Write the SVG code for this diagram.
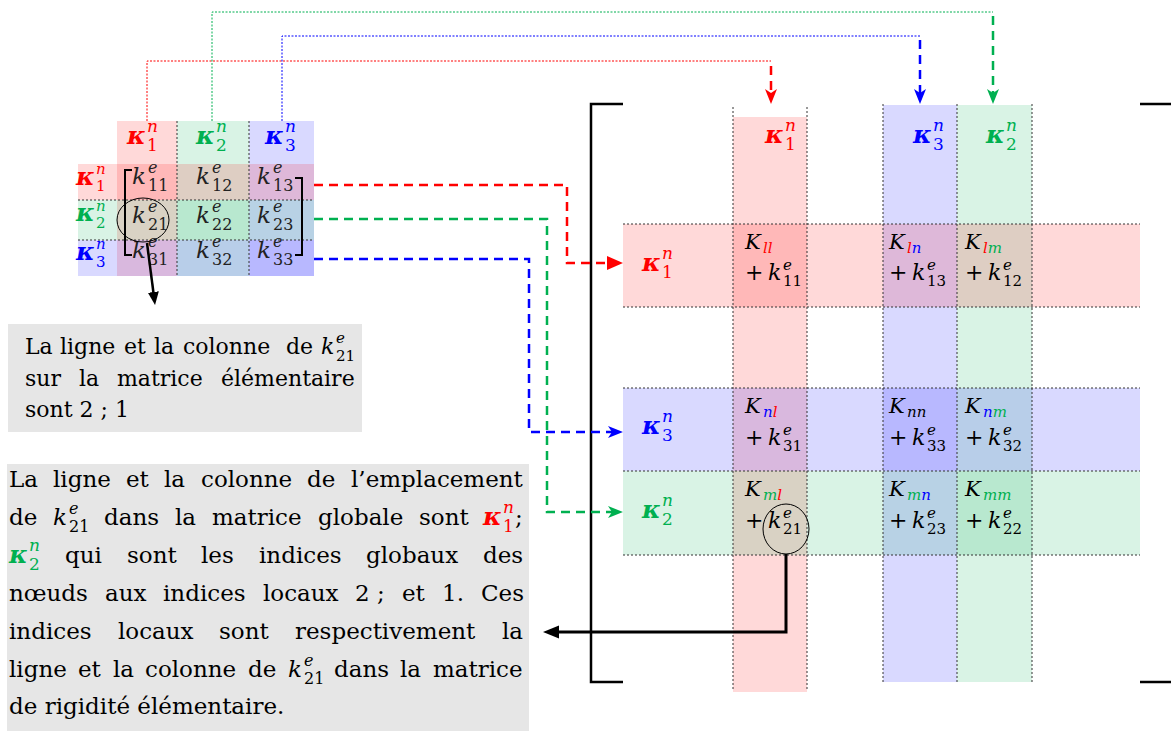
<svg xmlns="http://www.w3.org/2000/svg" width="1171" height="731" viewBox="0 0 1171 731">
<defs>
<style>
text{font-family:"DejaVu Serif","Liberation Serif",serif;fill:#000}
.t{font-size:23px}
.t1{font-size:22px}
.kap{font-weight:bold;font-style:italic;font-size:25px}
.sc{font-size:17px}
.ss{font-size:16px}
.it{font-style:italic}
.k{font-style:italic;font-size:23px}
.kb{font-style:italic;font-size:22px}
.K{font-style:italic;font-size:21px}
.s{font-size:15px}
.pl{font-size:22px}
.e{fill:#222}
.fr{fill:#ff0000;fill-opacity:.15}
.fg{fill:#00b050;fill-opacity:.15}
.fb{fill:#0000ff;fill-opacity:.15}
.dot{stroke:#333;stroke-width:1;stroke-dasharray:2 2;fill:none}
.red{fill:#ff0000}.grn{fill:#00b050}.blu{fill:#0000ff}
.thin{fill:none;stroke-width:1;stroke-dasharray:2 1.5}
.thick{fill:none;stroke-width:2.5;stroke-dasharray:9 6}
.blk{fill:none;stroke:#000}
.box{fill:#e6e6e6}
</style>
<marker id="stR" markerUnits="userSpaceOnUse" markerWidth="16" markerHeight="12" refX="4" refY="6" orient="auto"><path d="M0,0 L15,6 L0,12 L4,6 Z" fill="#ff0000"/></marker>
<marker id="stB" markerUnits="userSpaceOnUse" markerWidth="16" markerHeight="12" refX="4" refY="6" orient="auto"><path d="M0,0 L15,6 L0,12 L4,6 Z" fill="#0000ff"/></marker>
<marker id="stG" markerUnits="userSpaceOnUse" markerWidth="16" markerHeight="12" refX="4" refY="6" orient="auto"><path d="M0,0 L15,6 L0,12 L4,6 Z" fill="#00b050"/></marker>
<marker id="trR" markerUnits="userSpaceOnUse" markerWidth="17" markerHeight="14" refX="1" refY="7" orient="auto"><path d="M0,0 L16,7 L0,14 Z" fill="#ff0000"/></marker>
<marker id="trK" markerUnits="userSpaceOnUse" markerWidth="17" markerHeight="14" refX="1" refY="6.5" orient="auto"><path d="M0,0 L16,6.5 L0,13 Z" fill="#000"/></marker>
<marker id="trK2" markerUnits="userSpaceOnUse" markerWidth="14" markerHeight="12" refX="1" refY="5.5" orient="auto"><path d="M0,0 L13,5.5 L0,11 Z" fill="#000"/></marker>
</defs>
<rect width="1171" height="731" fill="#fff"/>

<!-- Small element matrix -->
<g id="element-matrix">
<rect class="fr" x="117" y="121" width="60" height="155"/>
<rect class="fg" x="177" y="121" width="72" height="155"/>
<rect class="fb" x="249" y="121" width="65" height="155"/>
<rect class="fr" x="78" y="164" width="236" height="36"/>
<rect class="fg" x="78" y="200" width="236" height="40"/>
<rect class="fb" x="78" y="240" width="236" height="36"/>
<path class="dot" d="M177,121 V276 M249,121 V276 M78,200 H314 M78,240 H314"/>
<!-- headers -->
<text x="127" y="144" class="red"><tspan class="kap">κ</tspan><tspan class="sc it" x="147" y="132">n</tspan><tspan class="sc" x="147" y="151">1</tspan></text>
<text x="196" y="144" class="grn"><tspan class="kap">κ</tspan><tspan class="sc it" x="216" y="132">n</tspan><tspan class="sc" x="216" y="151">2</tspan></text>
<text x="265" y="144" class="blu"><tspan class="kap">κ</tspan><tspan class="sc it" x="285" y="132">n</tspan><tspan class="sc" x="285" y="151">3</tspan></text>
<text x="76" y="185" class="red"><tspan class="kap">κ</tspan><tspan class="s it" x="96" y="174">n</tspan><tspan class="s" x="96" y="191">1</tspan></text>
<text x="76" y="221" class="grn"><tspan class="kap">κ</tspan><tspan class="s it" x="96" y="211">n</tspan><tspan class="s" x="96" y="228">2</tspan></text>
<text x="76" y="260" class="blu"><tspan class="kap">κ</tspan><tspan class="s it" x="96" y="249">n</tspan><tspan class="s" x="96" y="267">3</tspan></text>
<!-- entries -->
<text class="e" x="132" y="184"><tspan class="k">k</tspan><tspan class="ss it" x="148" y="173">e</tspan><tspan class="ss" x="148" y="191">11</tspan></text>
<text class="e" x="196" y="184"><tspan class="k">k</tspan><tspan class="ss it" x="212" y="173">e</tspan><tspan class="ss" x="212" y="191">12</tspan></text>
<text class="e" x="257" y="184"><tspan class="k">k</tspan><tspan class="ss it" x="273" y="173">e</tspan><tspan class="ss" x="273" y="191">13</tspan></text>
<text class="e" x="132" y="223"><tspan class="k">k</tspan><tspan class="ss it" x="148" y="212">e</tspan><tspan class="ss" x="148" y="230">21</tspan></text>
<text class="e" x="196" y="223"><tspan class="k">k</tspan><tspan class="ss it" x="212" y="212">e</tspan><tspan class="ss" x="212" y="230">22</tspan></text>
<text class="e" x="257" y="223"><tspan class="k">k</tspan><tspan class="ss it" x="273" y="212">e</tspan><tspan class="ss" x="273" y="230">23</tspan></text>
<text class="e" x="132" y="258"><tspan class="k">k</tspan><tspan class="ss it" x="148" y="247">e</tspan><tspan class="ss" x="148" y="265">31</tspan></text>
<text class="e" x="196" y="258"><tspan class="k">k</tspan><tspan class="ss it" x="212" y="247">e</tspan><tspan class="ss" x="212" y="265">32</tspan></text>
<text class="e" x="257" y="258"><tspan class="k">k</tspan><tspan class="ss it" x="273" y="247">e</tspan><tspan class="ss" x="273" y="265">33</tspan></text>
<path class="blk" stroke-width="2" d="M132,170 H125 V255 H132 M295,178 H302 V255 H295"/>
<ellipse class="blk" stroke-width="1" cx="143" cy="220" rx="26" ry="22"/>
</g>

<!-- Global matrix -->
<g id="global-matrix">
<rect class="fr" x="733" y="117" width="74" height="575"/>
<rect class="fb" x="883" y="105" width="74" height="577"/>
<rect class="fg" x="957" y="105" width="75" height="577"/>
<rect class="fr" x="623" y="224" width="517" height="83"/>
<rect class="fb" x="623" y="388" width="517" height="83"/>
<rect class="fg" x="623" y="471" width="517" height="84"/>
<path class="dot" d="M733,107 V690 M807,107 V690 M883,104 V684 M957,104 V684 M1032,104 V684 M623,224 H1140 M623,307 H1140 M623,388 H1140 M623,471 H1140 M623,555 H1140"/>
<path class="blk" stroke-width="2.5" d="M623,104 H591 V682 H623 M1140,104 H1171 M1140,682 H1171"/>
<!-- column labels -->
<text x="765" y="143" class="red"><tspan class="kap">κ</tspan><tspan class="sc it" x="785" y="131">n</tspan><tspan class="sc" x="785" y="150">1</tspan></text>
<text x="913" y="143" class="blu"><tspan class="kap">κ</tspan><tspan class="sc it" x="933" y="131">n</tspan><tspan class="sc" x="933" y="150">3</tspan></text>
<text x="986" y="143" class="grn"><tspan class="kap">κ</tspan><tspan class="sc it" x="1006" y="131">n</tspan><tspan class="sc" x="1006" y="150">2</tspan></text>
<!-- row labels -->
<text x="642" y="271" class="red"><tspan class="kap">κ</tspan><tspan class="sc it" x="662" y="259">n</tspan><tspan class="sc" x="662" y="278">1</tspan></text>
<text x="642" y="434" class="blu"><tspan class="kap">κ</tspan><tspan class="sc it" x="662" y="422">n</tspan><tspan class="sc" x="662" y="441">3</tspan></text>
<text x="642" y="518" class="grn"><tspan class="kap">κ</tspan><tspan class="sc it" x="662" y="506">n</tspan><tspan class="sc" x="662" y="525">2</tspan></text>
<!-- row l -->
<text x="745" y="249"><tspan class="K">K</tspan><tspan class="s it red" x="763" y="253">ll</tspan></text>
<text x="745" y="280" class="pl">+</text>
<text x="768" y="280"><tspan class="kb">k</tspan><tspan class="s it" x="783" y="270">e</tspan><tspan class="s" x="783" y="286">11</tspan></text>
<text x="889" y="249"><tspan class="K">K</tspan><tspan class="s it red" x="907" y="253">l</tspan><tspan class="s it blu">n</tspan></text>
<text x="889" y="280" class="pl">+</text>
<text x="912" y="280"><tspan class="kb">k</tspan><tspan class="s it" x="927" y="270">e</tspan><tspan class="s" x="927" y="286">13</tspan></text>
<text x="965" y="249"><tspan class="K">K</tspan><tspan class="s it red" x="983" y="253">l</tspan><tspan class="s it grn">m</tspan></text>
<text x="965" y="280" class="pl">+</text>
<text x="988" y="280"><tspan class="kb">k</tspan><tspan class="s it" x="1003" y="270">e</tspan><tspan class="s" x="1003" y="286">12</tspan></text>
<!-- row n -->
<text x="745" y="413"><tspan class="K">K</tspan><tspan class="s it blu" x="763" y="417">n</tspan><tspan class="s it red">l</tspan></text>
<text x="745" y="445" class="pl">+</text>
<text x="768" y="445"><tspan class="kb">k</tspan><tspan class="s it" x="783" y="435">e</tspan><tspan class="s" x="783" y="451">31</tspan></text>
<text x="889" y="413"><tspan class="K">K</tspan><tspan class="s it" x="907" y="417">nn</tspan></text>
<text x="889" y="445" class="pl">+</text>
<text x="912" y="445"><tspan class="kb">k</tspan><tspan class="s it" x="927" y="435">e</tspan><tspan class="s" x="927" y="451">33</tspan></text>
<text x="965" y="413"><tspan class="K">K</tspan><tspan class="s it blu" x="983" y="417">n</tspan><tspan class="s it grn">m</tspan></text>
<text x="965" y="445" class="pl">+</text>
<text x="988" y="445"><tspan class="kb">k</tspan><tspan class="s it" x="1003" y="435">e</tspan><tspan class="s" x="1003" y="451">32</tspan></text>
<!-- row m -->
<text x="745" y="496"><tspan class="K">K</tspan><tspan class="s it grn" x="763" y="500">m</tspan><tspan class="s it red">l</tspan></text>
<text x="745" y="528" class="pl">+</text>
<text x="768" y="528"><tspan class="kb">k</tspan><tspan class="s it" x="783" y="518">e</tspan><tspan class="s" x="783" y="534">21</tspan></text>
<text x="889" y="496"><tspan class="K">K</tspan><tspan class="s it grn" x="907" y="500">m</tspan><tspan class="s it blu">n</tspan></text>
<text x="889" y="528" class="pl">+</text>
<text x="912" y="528"><tspan class="kb">k</tspan><tspan class="s it" x="927" y="518">e</tspan><tspan class="s" x="927" y="534">23</tspan></text>
<text x="965" y="496"><tspan class="K">K</tspan><tspan class="s it grn" x="983" y="500">mm</tspan></text>
<text x="965" y="528" class="pl">+</text>
<text x="988" y="528"><tspan class="kb">k</tspan><tspan class="s it" x="1003" y="518">e</tspan><tspan class="s" x="1003" y="534">22</tspan></text>
<ellipse class="blk" stroke-width="1" cx="786" cy="529" rx="23" ry="25"/>
</g>

<!-- Note 1 -->
<g id="note-element">
<rect class="box" x="8" y="324" width="354" height="108"/>
<text class="t1" y="354"><tspan x="25">La</tspan><tspan x="60">ligne</tspan><tspan x="124">et</tspan><tspan x="154">la</tspan><tspan x="183">colonne</tspan><tspan x="286">de</tspan><tspan x="321" class="it">k</tspan><tspan x="336" y="343" class="s it">e</tspan><tspan x="336" y="361" class="s">21</tspan></text>
<text class="t1" y="386"><tspan x="25">sur</tspan><tspan x="79">la</tspan><tspan x="117">matrice</tspan><tspan x="221">élémentaire</tspan></text>
<text class="t1" x="25" y="417">sont 2 ; 1</text>
</g>

<!-- Note 2 -->
<g id="note-global">
<rect class="box" x="7" y="464" width="522" height="267"/>
<text class="t" y="487"><tspan x="9">La</tspan><tspan x="53">ligne</tspan><tspan x="126">et</tspan><tspan x="164">la</tspan><tspan x="201">colonne</tspan><tspan x="307">de</tspan><tspan x="351">l’emplacement</tspan></text>
<text class="t" y="525"><tspan x="9">de</tspan><tspan x="53" class="it">k</tspan><tspan x="69" y="514" class="ss it">e</tspan><tspan x="69" y="532" class="ss">21</tspan><tspan x="104" y="525">dans</tspan><tspan x="175">la</tspan><tspan x="212">matrice</tspan><tspan x="318">globale</tspan><tspan x="419">sont</tspan><tspan x="483" class="kap red">κ</tspan><tspan x="503" y="513" class="sc it red">n</tspan><tspan x="503" y="532" class="sc red">1</tspan><tspan x="515" y="525">;</tspan></text>
<text class="t" y="563"><tspan x="9" class="kap grn">κ</tspan><tspan x="29" y="551" class="sc it grn">n</tspan><tspan x="29" y="570" class="sc grn">2</tspan><tspan x="65" y="563">qui</tspan><tspan x="127">sont</tspan><tspan x="201">les</tspan><tspan x="259">indices</tspan><tspan x="366">globaux</tspan><tspan x="483">des</tspan></text>
<text class="t" y="601"><tspan x="9">nœuds</tspan><tspan x="105">aux</tspan><tspan x="163">indices</tspan><tspan x="263">locaux</tspan><tspan x="355">2 ;</tspan><tspan x="402">et</tspan><tspan x="442">1.</tspan><tspan x="481">Ces</tspan></text>
<text class="t" y="639"><tspan x="9">indices</tspan><tspan x="118">locaux</tspan><tspan x="219">sont</tspan><tspan x="295">respectivement</tspan><tspan x="502">la</tspan></text>
<text class="t" y="677"><tspan x="9">ligne</tspan><tspan x="78">et</tspan><tspan x="113">la</tspan><tspan x="145">colonne</tspan><tspan x="248">de</tspan><tspan x="288" class="it">k</tspan><tspan x="304" y="666" class="ss it">e</tspan><tspan x="304" y="684" class="ss">21</tspan><tspan x="334" y="677">dans</tspan><tspan x="400">la</tspan><tspan x="433">matrice</tspan></text>
<text class="t" x="9" y="714">de rigidité élémentaire.</text>
</g>

<!-- Connectors -->
<g id="connectors">
<path class="thin" stroke="#ff0000" d="M147,121 V61 H771"/>
<path class="thin" stroke="#00b050" d="M212,121 V12 H993"/>
<path class="thin" stroke="#0000ff" d="M282,121 V36 H920"/>
<path class="thick" stroke="#ff0000" d="M771,66 V93" marker-end="url(#stR)"/>
<path class="thick" stroke="#0000ff" d="M920,40 V93" marker-end="url(#stB)"/>
<path class="thick" stroke="#00b050" d="M993,16 V93" marker-end="url(#stG)"/>
<path class="thick" stroke="#ff0000" d="M314,185 H567 V263 H608" marker-end="url(#trR)"/>
<path class="thick" stroke="#00b050" d="M314,219 H547 V512 H612" marker-end="url(#stG)"/>
<path class="thick" stroke="#0000ff" d="M314,259 H529 V432 H612" marker-end="url(#stB)"/>
<path class="blk" stroke-width="3" d="M786,554 V632 H558" marker-end="url(#trK)"/>
<path class="blk" stroke-width="2.5" d="M147,243 L153.5,293" marker-end="url(#trK2)"/>
</g>
</svg>
